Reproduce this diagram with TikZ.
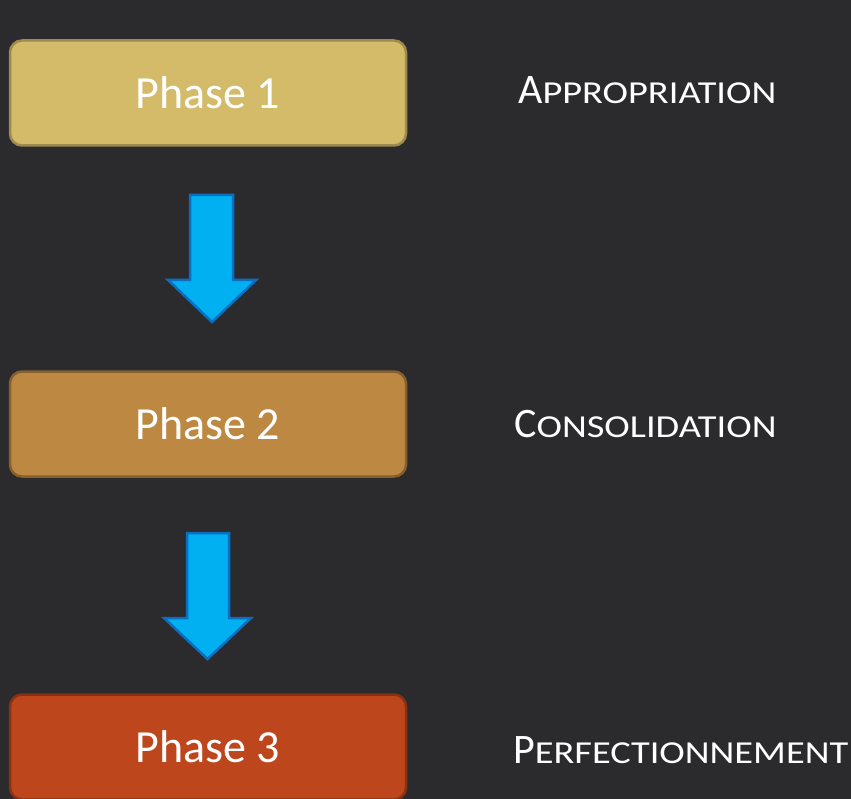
\documentclass[tikz,border=0pt]{standalone}
\usepackage{fontspec}
\usepackage{graphicx}
\setmainfont{Carlito}
\definecolor{bg}{HTML}{2B2B2D}
\definecolor{p1fill}{HTML}{D3BB6A}
\definecolor{p1line}{HTML}{9D8A4E}
\definecolor{p2fill}{HTML}{BD8842}
\definecolor{p2line}{HTML}{87602E}
\definecolor{p3fill}{HTML}{BE461C}
\definecolor{p3line}{HTML}{8A3114}
\definecolor{arrfill}{HTML}{00B0F0}
\definecolor{arrline}{HTML}{0A6FC2}
\tikzset{
  phasebox/.style={draw, line width=2.5pt, rounded corners=12pt, minimum width=396pt, minimum height=105pt, inner sep=0pt, text=white, font=\fontsize{46}{50}\selectfont},
  label/.style={anchor=base west, text=white, inner sep=0pt, font=\fontsize{42}{46}\selectfont},
  bigarrow/.style={fill=arrfill, draw=arrline, line width=2.5pt, line join=miter}
}
\newcommand{\fsc}[2]{{\fontsize{42}{46}\selectfont #1}\scalebox{1.2}[1]{\fontsize{32}{35}\selectfont #2}}
\begin{document}
\begin{tikzpicture}[x=1pt,y=-1pt]
\fill[bg] (0,0) rectangle (851,799);
\useasboundingbox (0,0) rectangle (851,799);
\node[phasebox, fill=p1fill, draw=p1line] (p1) at (208,93) {Phase 1};
\node[phasebox, fill=p2fill, draw=p2line] (p2) at (208,424) {Phase 2};
\node[phasebox, fill=p3fill, draw=p3line] (p3) at (208,747) {Phase 3};
\node[label] (l1) at (518,104) {\fsc{A}{PPROPRIATION}};
\node[label] (l2) at (514,437) {\fsc{C}{ONSOLIDATION}};
\node[label] (l3) at (513,763) {\fsc{P}{ERFECTIONNEMENT}};
\draw[bigarrow] (190,195) -- (233,195) -- (233,280) -- (256,280) -- (212,322) -- (168,280) -- (190,280) -- cycle;
\draw[bigarrow] (187,533) -- (229,533) -- (229,618) -- (251,618) -- (207.5,659) -- (164,618) -- (187,618) -- cycle;
\end{tikzpicture}
\end{document}
